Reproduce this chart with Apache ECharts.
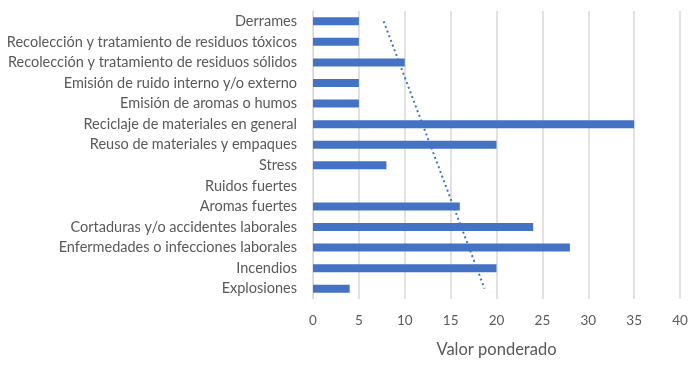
<!DOCTYPE html>
<html>
<head>
<meta charset="utf-8">
<script src="https://cdn.jsdelivr.net/npm/echarts@6/dist/echarts.min.js"></script>
<style>
  html, body { margin: 0; padding: 0; background: #fff; }
  #chart { width: 700px; height: 368px; }
</style>
</head>
<body>
<div id="chart"></div>
<script>
// categories, top to bottom as shown
const categories = [
  'Derrames',
  'Recolección y tratamiento de residuos tóxicos',
  'Recolección y tratamiento de residuos sólidos',
  'Emisión de ruido interno y/o externo',
  'Emisión de aromas o humos',
  'Reciclaje de materiales en general',
  'Reuso de materiales y empaques',
  'Stress',
  'Ruidos fuertes',
  'Aromas fuertes',
  'Cortaduras y/o accidentes laborales',
  'Enfermedades o infecciones laborales',
  'Incendios',
  'Explosiones'
];
const values = [5, 5, 10, 5, 5, 35, 20, 8, 0, 16, 24, 28, 20, 4];

// linear trendline ends (top category, bottom category)
const trendEnds = [7.7, 18.7];

const xTicks = { min: 0, max: 40, interval: 5 };

const font = "Lato, 'Open Sans', sans-serif";
const blue = '#4472C4';

const chart = echarts.init(document.getElementById('chart'));

chart.setOption({
  animation: false,
  textStyle: { fontFamily: font },
  grid: { left: 313, right: 20, top: 11, bottom: 69 },
  xAxis: {
    type: 'value',
    min: xTicks.min,
    max: xTicks.max,
    interval: xTicks.interval,
    axisLine: { show: false },
    axisTick: { show: false },
    splitLine: { lineStyle: { color: '#d9d9d9', width: 1.5 } },
    axisLabel: { color: '#595959', fontSize: 13.5, margin: 15, fontFamily: font },
    name: 'Valor ponderado',
    nameLocation: 'middle',
    nameGap: 42,
    nameTextStyle: { color: '#595959', fontSize: 16.5, fontFamily: font }
  },
  yAxis: {
    type: 'category',
    inverse: true,
    data: categories,
    axisLine: { show: true, lineStyle: { color: '#d9d9d9', width: 1 } },
    axisTick: { show: false },
    axisLabel: { color: '#595959', fontSize: 14.5, margin: 16, fontFamily: font }
  },
  series: [
    {
      type: 'bar',
      data: values,
      barWidth: 8,
      itemStyle: { color: blue }
    },
    {
      type: 'line',
      data: [
        [trendEnds[0], categories[0]],
        [trendEnds[1], categories[categories.length - 1]]
      ],
      symbol: 'none',
      lineStyle: { color: blue, width: 2, type: [2, 3] },
      z: 3
    }
  ]
});
</script>
</body>
</html>
